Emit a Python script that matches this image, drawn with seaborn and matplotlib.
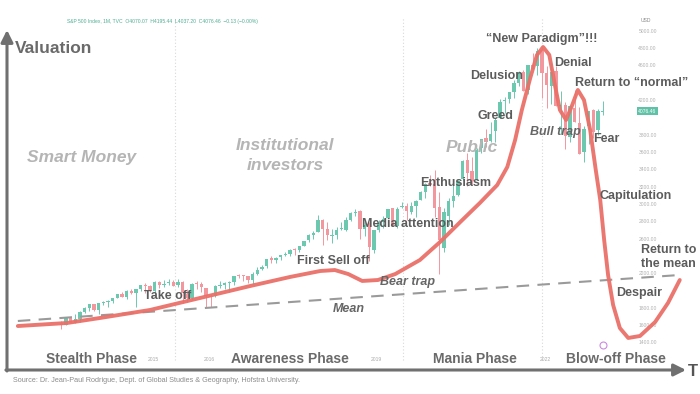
import numpy as np
import pandas as pd
import matplotlib
matplotlib.use("Agg")
import matplotlib.pyplot as plt
import seaborn as sns

# ---------------- data ----------------
# Monthly S&P 500 candles, Jun 2013 .. Feb 2023 (read/estimated)
start_year = 2013 + 5 / 12  # June 2013
opens = [1631, 1609, 1690, 1636, 1682, 1759, 1806,
         1846, 1783, 1858, 1874, 1885, 1924, 1962, 1929, 2004, 1972, 2019, 2065,
         2059, 1996, 2105, 2067, 2088, 2109, 2067, 2104, 1970, 1920, 2081, 2082,
         2039, 1937, 1937, 2057, 2067, 2094, 2100, 2174, 2171, 2168, 2128, 2201,
         2251, 2286, 2381, 2363, 2389, 2416, 2431, 2477, 2474, 2521, 2583, 2645,
         2683, 2816, 2715, 2634, 2643, 2718, 2704, 2821, 2897, 2926, 2718, 2790,
         2476, 2703, 2798, 2848, 2953, 2751, 2971, 2981, 2910, 2983, 3051, 3144,
         3245, 3236, 2974, 2499, 2869, 3038, 3105, 3288, 3508, 3385, 3296, 3645,
         3764, 3732, 3842, 3992, 4192, 4217, 4300, 4406, 4528, 4317, 4610, 4602,
         4778, 4519, 4363, 4540, 4130, 4149, 3781, 4113, 3937, 3610, 3902, 4087,
         3853, 4070]
highs = [1654, 1698, 1709, 1730, 1765, 1814, 1849,
         1851, 1867, 1884, 1897, 1925, 1968, 1992, 2006, 2020, 2018, 2075, 2094,
         2072, 2120, 2118, 2126, 2135, 2130, 2133, 2113, 2021, 2094, 2117, 2104,
         2039, 1963, 2073, 2111, 2103, 2121, 2178, 2194, 2188, 2170, 2214, 2278,
         2301, 2372, 2401, 2398, 2418, 2454, 2484, 2491, 2519, 2582, 2657, 2695,
         2873, 2835, 2801, 2717, 2742, 2791, 2849, 2917, 2941, 2940, 2815, 2801,
         2708, 2814, 2860, 2950, 2954, 2964, 3028, 3014, 3022, 3050, 3154, 3248,
         3338, 3394, 3137, 2955, 3068, 3233, 3280, 3514, 3588, 3550, 3646, 3760,
         3870, 3950, 3995, 4218, 4238, 4302, 4430, 4538, 4546, 4608, 4744, 4808,
         4819, 4595, 4637, 4593, 4307, 4178, 4140, 4325, 4120, 3906, 4080, 4101,
         4095, 4195]
lows = [1560, 1605, 1627, 1633, 1647, 1747, 1768,
        1771, 1737, 1835, 1814, 1860, 1915, 1931, 1905, 1964, 1821, 2001, 1973,
        1988, 1981, 2040, 2048, 2068, 2057, 2045, 1867, 1872, 1893, 2019, 1993,
        1812, 1810, 1931, 2034, 2025, 1992, 2074, 2148, 2120, 2097, 2084, 2187,
        2245, 2271, 2322, 2329, 2353, 2406, 2407, 2418, 2446, 2520, 2567, 2605,
        2683, 2533, 2585, 2553, 2595, 2699, 2698, 2803, 2864, 2603, 2631, 2346,
        2443, 2681, 2722, 2848, 2751, 2729, 2953, 2822, 2892, 2856, 3051, 3071,
        3215, 2855, 2192, 2447, 2767, 2965, 3101, 3284, 3210, 3234, 3279, 3594,
        3662, 3725, 3723, 3992, 4057, 4165, 4233, 4367, 4306, 4279, 4560, 4495,
        4222, 4115, 4157, 4132, 3811, 3637, 3721, 3954, 3584, 3492, 3699, 3764,
        3795, 4037]
closes = [1606, 1686, 1633, 1682, 1757, 1806, 1848,
          1783, 1859, 1872, 1884, 1924, 1960, 1931, 2003, 1972, 2018, 2068, 2059,
          1995, 2105, 2068, 2086, 2107, 2063, 2104, 1972, 1920, 2079, 2080, 2044,
          1940, 1932, 2060, 2065, 2097, 2099, 2174, 2171, 2168, 2126, 2199, 2239,
          2279, 2364, 2363, 2384, 2412, 2423, 2470, 2472, 2519, 2575, 2648, 2674,
          2824, 2714, 2641, 2648, 2705, 2718, 2816, 2902, 2914, 2712, 2760, 2507,
          2704, 2784, 2834, 2946, 2752, 2942, 2980, 2926, 2977, 3038, 3141, 3231,
          3226, 2954, 2585, 2912, 3044, 3100, 3271, 3500, 3363, 3270, 3622, 3756,
          3714, 3811, 3973, 4181, 4204, 4298, 4395, 4523, 4308, 4605, 4567, 4766,
          4516, 4374, 4530, 4132, 4132, 3785, 4130, 3955, 3586, 3872, 4080, 3840,
          4077, 4076]

# Bubble curve (time in years, valuation on the price scale)
curve_t = [2012.64, 2013.52, 2014.11, 2015.00, 2015.89, 2016.79, 2017.50, 2018.04,
           2018.30, 2018.54, 2018.79, 2019.07, 2019.38, 2019.82, 2020.18, 2020.54,
           2020.89, 2021.20, 2021.38, 2021.52, 2021.64, 2021.79, 2021.91, 2022.02,
           2022.13, 2022.23, 2022.32, 2022.43, 2022.54, 2022.64, 2022.75, 2022.86,
           2022.96, 2023.04, 2023.11, 2023.18, 2023.27, 2023.39, 2023.54, 2023.75,
           2024.02, 2024.25, 2024.46]
curve_v = [1596, 1631, 1689, 1781, 1919, 2058, 2162, 2231,
           2242, 2196, 2116, 2127, 2196, 2358, 2566, 2796,
           3016, 3223, 3431, 3743, 4089, 4458, 4724, 4816,
           4724, 4378, 4089, 3974, 4147, 4320, 4204, 3858,
           3397, 3050, 2589, 2185, 1839, 1573, 1458, 1481,
           1642, 1862, 2127]
mean_t = [2012.64, 2024.46]
mean_v = [1654, 2185]

# price labels visible in the screenshot (others hidden under annotations)
price_ticks = [5000, 4800, 4600, 4200, 3800, 3600, 3400, 3200,
               3000, 2800, 2600, 2200, 1800, 1600, 1400]
year_ticks = [2015, 2016, 2019, 2022]
grid_years = [2015.45, 2019.52, 2022.0]
last_price = 4076.46

# ---------------- style ----------------
sns.set_theme(style="white")
plt.rcParams["font.family"] = ["Liberation Sans", "DejaVu Sans"]

W, H = 700, 394
fig = plt.figure(figsize=(7.0, 3.94), dpi=100)
fig.patch.set_facecolor("white")

# data axes (year, price), mapping chosen to match the screenshot
ax = fig.add_axes([0, 0, 1, 1])
px_per_year = 56.0
px_per_unit = 0.08665
x0_year = 2015 - 150 / px_per_year
x1_year = 2015 + (W - 150) / px_per_year
y_bot = 1400 - (H - 343) / px_per_unit
y_top = 1400 + 343 / px_per_unit

# vertical dotted grid lines
for g in grid_years:
    ax.plot([g, g], [1200, 5150], color="#d8d8d8", lw=0.8, ls=(0, (1, 2)), zorder=0)

# candles
up_col, dn_col = "#6cc9b0", "#f2979d"
t = np.array([start_year + i / 12 for i in range(len(closes))])
o = np.array(opens); c = np.array(closes); hi = np.array(highs); lo = np.array(lows)
cols = np.where(c >= o, up_col, dn_col)
ax.vlines(t, lo, hi, colors=cols, lw=0.7, zorder=2)
body_bottom = np.minimum(o, c)
body_h = np.maximum(np.abs(c - o), 12)
ax.bar(t, body_h, bottom=body_bottom, width=0.062, color=cols, linewidth=0, zorder=3)

# mean line and bubble curve via seaborn
mean_df = pd.DataFrame({"t": mean_t, "v": mean_v})
sns.lineplot(data=mean_df, x="t", y="v", ax=ax, color="#9a9a9a", lw=1.5, zorder=4)
ax.lines[-1].set_dashes((6, 4))
curve_df = pd.DataFrame({"t": curve_t, "v": curve_v})
sns.lineplot(data=curve_df, x="t", y="v", ax=ax, sort=False, color="#ea7069",
             lw=2.8, zorder=5, alpha=0.95)
ax.set_xlim(x0_year, x1_year)
ax.set_ylim(y_bot, y_top)
ax.axis("off")

# right price labels
for p in price_ticks:
    ax.text(2023.72, p, f"{p:.2f}", fontsize=3.6, color="#b0b0b0",
            ha="left", va="center", zorder=1)
ax.text(2023.72, last_price, f"{last_price:.2f}", fontsize=3.6, color="white",
        ha="left", va="center", zorder=6,
        bbox=dict(boxstyle="square,pad=0.35", fc="#5fc2a6", ec="none"))
for yv in year_ticks:
    ax.text(yv + 0.05, 1204, str(yv), fontsize=3.6, color="#aaaaaa",
            ha="center", va="center", zorder=1)

# canvas axes for annotations (pixel coordinates)
cv = fig.add_axes([0, 0, 1, 1], facecolor="none")
cv.set_xlim(0, W)
cv.set_ylim(H, 0)
cv.axis("off")

axis_col = "#707070"
cv.annotate("", xy=(7, 30), xytext=(7, 371),
            arrowprops=dict(arrowstyle="-|>,head_length=0.6,head_width=0.3",
                            color=axis_col, lw=2.2, shrinkA=0, shrinkB=0))
cv.annotate("", xy=(686, 370), xytext=(5.9, 370),
            arrowprops=dict(arrowstyle="-|>,head_length=0.6,head_width=0.3",
                            color=axis_col, lw=2.2, shrinkA=0, shrinkB=0))
cv.text(688, 372, "T", fontsize=12, fontweight="bold", color="#555555",
        ha="left", va="center")
cv.text(15, 48, "Valuation", fontsize=12.5, fontweight="bold", color="#6a6a6a",
        ha="left", va="center")

# header / tradingview labels
cv.text(67, 21, "S&P 500 Index, 1M, TVC  O4070.07  H4195.44  L4037.20  C4076.46  \u22120.13 (\u22120.00%)",
        fontsize=3.6, color="#4fae93", ha="left", va="center")
cv.text(641, 20, "USD", fontsize=3.6, color="#888888", ha="left", va="center")
cv.plot([603], [345], marker="o", ms=5, mfc="none", mec="#cc88e0", mew=0.8)

# audience labels
light = "#b5b5b5"
cv.text(82, 157, "Smart Money", fontsize=12.5, fontweight="bold", style="italic",
        color=light, ha="center", va="center")
cv.text(285, 145, "Institutional", fontsize=12.5, fontweight="bold", style="italic",
        color=light, ha="center", va="center")
cv.text(285, 165, "investors", fontsize=12.5, fontweight="bold", style="italic",
        color=light, ha="center", va="center")
cv.text(472, 147, "Public", fontsize=12.5, fontweight="bold", style="italic",
        color=light, ha="center", va="center")

# stage annotations
dark = "#5c5c5c"
notes = [
    ("Take off", 168, 296), ("First Sell off", 333, 261),
    ("Media attention", 408, 224), ("Enthusiasm", 456, 183),
    ("Greed", 495, 116), ("Delusion", 497, 76),
    ("\u201cNew Paradigm\u201d!!!", 542, 39), ("Denial", 573, 63),
    ("Return to \u201cnormal\u201d", 632, 83), ("Fear", 606, 139),
    ("Capitulation", 636, 196), ("Despair", 639, 293),
]
for s, x, y in notes:
    cv.text(x, y, s, fontsize=9, fontweight="bold", color=dark,
            ha="center", va="center")
cv.text(641, 250, "Return to", fontsize=9, fontweight="bold", color=dark,
        ha="left", va="center")
cv.text(641, 264, "the mean", fontsize=9, fontweight="bold", color=dark,
        ha="left", va="center")
for s, x, y in [("Bull trap", 555, 132), ("Bear trap", 408, 282), ("Mean", 349, 309)]:
    cv.text(x, y, s, fontsize=9, fontweight="bold", style="italic", color="#666666",
            ha="center", va="center")

# phases
for s, x in [("Stealth Phase", 92), ("Awareness Phase", 290),
             ("Mania Phase", 475), ("Blow-off Phase", 616)]:
    cv.text(x, 359, s, fontsize=10, fontweight="bold", color="#6a6a6a",
            ha="center", va="center")

cv.text(13, 381, "Source: Dr. Jean-Paul Rodrigue, Dept. of Global Studies & Geography, Hofstra University.",
        fontsize=5.2, color="#8c8c8c", ha="left", va="center")

fig.savefig("out.png", dpi=100, facecolor="white")
